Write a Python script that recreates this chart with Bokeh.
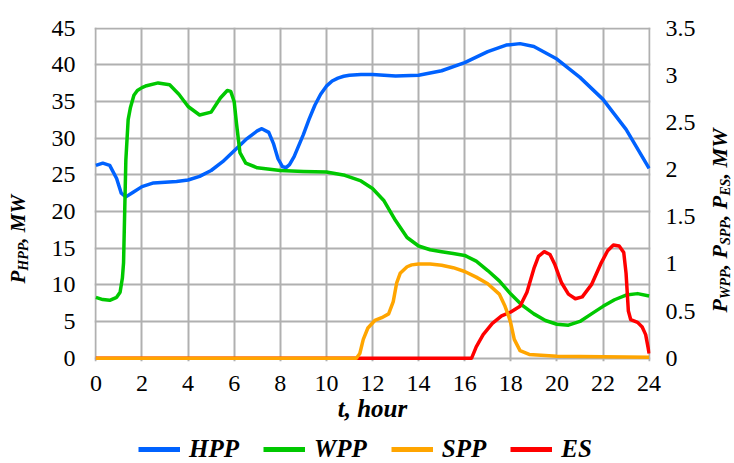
import math
from bokeh.plotting import figure
from bokeh.layouts import row, column
from bokeh.models import (Range1d, LinearAxis, Legend, LegendItem, Label,
                          FixedTicker, NumeralTickFormatter)
from bokeh.embed import file_html
from bokeh.resources import INLINE

# ---------------- data ----------------
hpp_t = [0, 0.3, 0.6, 0.9, 1.1, 1.3, 1.6, 2.0, 2.5, 3.0, 3.5, 4.0, 4.5, 5.0, 5.5,
         6.0, 6.5, 7.0, 7.2, 7.5, 7.7, 7.9, 8.1, 8.25, 8.4, 8.6, 8.8, 9.0, 9.25,
         9.5, 9.75, 10.0, 10.25, 10.5, 10.75, 11.0, 11.5, 12.0, 13.0, 14.0, 15.0,
         16.0, 17.0, 17.8, 18.4, 19.0, 20.0, 21.0, 22.0, 23.0, 24.0]
hpp_mw = [26.3, 26.6, 26.3, 24.5, 22.5, 22.0, 22.6, 23.4, 23.9, 24.0, 24.1, 24.3,
          24.8, 25.6, 26.8, 28.3, 29.8, 31.0, 31.3, 30.8, 29.3, 27.2, 26.1, 26.0,
          26.4, 27.5, 29.0, 30.5, 32.6, 34.5, 36.0, 37.1, 37.8, 38.2, 38.45, 38.6,
          38.7, 38.7, 38.5, 38.6, 39.2, 40.3, 41.8, 42.7, 42.9, 42.5, 40.8, 38.3,
          35.3, 31.2, 25.9]

wpp_t = [0, 0.3, 0.6, 0.9, 1.05, 1.15, 1.2, 1.25, 1.3, 1.4, 1.5, 1.65, 1.8, 2.0,
         2.2, 2.7, 3.2, 3.6, 4.0, 4.5, 5.0, 5.4, 5.7, 5.85, 6.0, 6.1, 6.25, 6.5,
         7.0, 8.0, 9.0, 10.0, 10.8, 11.5, 12.0, 12.5, 13.0, 13.5, 14.0, 14.5,
         15.0, 15.5, 16.0, 16.5, 17.0, 17.5, 18.0, 18.5, 19.0, 19.5, 20.0, 20.5,
         21.0, 21.5, 22.0, 22.5, 23.0, 23.5, 24.0]
wpp_mw = [0.645, 0.622, 0.614, 0.646, 0.70, 0.85, 1.01, 1.556, 2.1, 2.53, 2.66,
          2.79, 2.84, 2.87, 2.89, 2.92, 2.90, 2.80, 2.67, 2.58, 2.61, 2.76, 2.84,
          2.83, 2.72, 2.49, 2.18, 2.07, 2.02, 1.99, 1.98, 1.975, 1.94, 1.88, 1.80,
          1.67, 1.46, 1.28, 1.19, 1.15, 1.13, 1.11, 1.09, 1.03, 0.93, 0.82, 0.68,
          0.56, 0.47, 0.40, 0.36, 0.35, 0.39, 0.47, 0.55, 0.62, 0.67, 0.685, 0.66]

spp_t = [0, 11.3, 11.45, 11.6, 11.8, 12.1, 12.4, 12.7, 12.9, 13.05, 13.2, 13.5,
         13.7, 14.0, 14.5, 15.0, 15.5, 16.0, 16.5, 17.0, 17.5, 17.75, 17.9, 18.0,
         18.15, 18.4, 18.8, 20.0, 22.0, 24.0]
spp_mw = [0.0, 0.0, 0.05, 0.2, 0.32, 0.40, 0.43, 0.47, 0.6, 0.8, 0.9, 0.97, 0.99,
          1.0, 1.0, 0.985, 0.96, 0.92, 0.86, 0.79, 0.68, 0.55, 0.45, 0.37, 0.2,
          0.08, 0.04, 0.02, 0.015, 0.01]

es_t = [0, 16.3, 16.5, 16.8, 17.2, 17.6, 18.0, 18.4, 18.7, 19.0, 19.2, 19.45,
        19.7, 19.9, 20.2, 20.5, 20.8, 21.1, 21.5, 21.9, 22.2, 22.45, 22.7, 22.9,
        23.0, 23.1, 23.2, 23.5, 23.7, 23.85, 23.95, 24.0]
es_mw = [0.0, 0.0, 0.12, 0.25, 0.37, 0.45, 0.49, 0.55, 0.7, 0.95, 1.08, 1.13,
         1.1, 1.0, 0.8, 0.68, 0.63, 0.65, 0.78, 1.0, 1.14, 1.2, 1.19, 1.12, 0.9,
         0.5, 0.41, 0.38, 0.33, 0.25, 0.12, 0.05]

x_ticks = list(range(0, 25, 2))
left_ticks = list(range(0, 46, 5))
right_ticks = [0, 0.5, 1, 1.5, 2, 2.5, 3, 3.5]

series_names = ["HPP", "WPP", "SPP", "ES"]
colors = {"HPP": "#0062ff", "WPP": "#00c800", "SPP": "#ffa500", "ES": "#ff0000"}

FONT = "Liberation Serif"
K = 45 / 3.5
LW = 3.5

# ---------------- main chart ----------------
p = figure(width=664, height=435, output_backend="svg", toolbar_location=None,
           x_range=Range1d(-0.06, 24.06), y_range=Range1d(-0.45, 45.1),
           min_border_left=54, min_border_right=54, min_border_top=27,
           min_border_bottom=74)
p.extra_y_ranges = {"right": Range1d(-0.45 / K, 45.1 / K)}
p.outline_line_color = None

grid_color = "#b0b0b0"
p.xgrid.ticker = FixedTicker(ticks=x_ticks)
p.ygrid.ticker = FixedTicker(ticks=left_ticks)
for g in (p.xgrid, p.ygrid):
    g.grid_line_color = grid_color
    g.grid_line_width = 2

p.xaxis.ticker = FixedTicker(ticks=x_ticks)
p.yaxis.ticker = FixedTicker(ticks=left_ticks)
p.xaxis.axis_label = "t, hour"
p.xaxis.axis_label_text_font = FONT
p.xaxis.axis_label_text_font_style = "bold italic"
p.xaxis.axis_label_text_font_size = "25px"
p.xaxis.axis_label_text_color = "black"
p.xaxis.axis_label_standoff = 1

raxis = LinearAxis(y_range_name="right", ticker=FixedTicker(ticks=right_ticks),
                   formatter=NumeralTickFormatter(format="0.[0]"))
p.add_layout(raxis, "right")

for ax in (p.xaxis[0], p.yaxis[0], raxis):
    ax.axis_line_color = None
    ax.major_tick_line_color = None
    ax.minor_tick_line_color = None
    ax.major_tick_out = 0
    ax.major_tick_in = 0
    ax.major_label_text_font = FONT
    ax.major_label_text_font_size = "24px"
    ax.major_label_text_color = "black"
p.xaxis.major_label_standoff = 14
p.yaxis.major_label_standoff = 19
raxis.major_label_standoff = 15

p.line(hpp_t, hpp_mw, line_color=colors["HPP"], line_width=LW, line_join="round")
p.line(wpp_t, wpp_mw, line_color=colors["WPP"], line_width=LW, line_join="round",
       y_range_name="right")
p.line(es_t, es_mw, line_color=colors["ES"], line_width=LW, line_join="round",
       y_range_name="right")
p.line(spp_t, spp_mw, line_color=colors["SPP"], line_width=LW, line_join="round",
       y_range_name="right")

# ---------------- legend strip ----------------
leg = figure(width=664, height=28, output_backend="svg", toolbar_location=None,
             x_range=Range1d(0, 664), y_range=Range1d(0, 28), min_border=0,
             x_axis_location=None, y_axis_location=None)
leg.grid.visible = False
leg.outline_line_color = None
items = []
for n in series_names:
    # proxy renderer placed outside the strip's visible range
    r = leg.line(x=[-50, -40], y=[-50, -50], line_color=colors[n], line_width=5)
    items.append(LegendItem(label=n, renderers=[r]))
legend = Legend(items=items, orientation="horizontal", location=(44, 0),
                label_text_font=FONT, label_text_font_style="bold italic",
                label_text_font_size="25px", label_text_color="black",
                glyph_width=42, glyph_height=28, label_height=28,
                label_standoff=9, spacing=24, border_line_color=None,
                background_fill_alpha=0, padding=0, margin=0)
leg.add_layout(legend)

# ---------------- rotated axis titles with subscripts ----------------
EM = {"P": 0.611, "H": 0.778, "W": 0.889, "M": 0.889, "S": 0.556, "E": 0.667,
      ",": 0.25, " ": 0.25}


def title_fig(width, pieces, x0, y0):
    f = figure(width=width, height=463, output_backend="svg",
               toolbar_location=None, x_range=Range1d(0, width),
               y_range=Range1d(0, 463), min_border=0,
               x_axis_location=None, y_axis_location=None)
    f.grid.visible = False
    f.outline_line_color = None
    y = y0
    for text, size, sub in pieces:
        f.add_layout(Label(x=x0 + (6 if sub else 0), y=y, text=text,
                           angle=math.pi / 2, text_align="left",
                           text_baseline="middle", text_font=FONT,
                           text_font_style="bold italic",
                           text_font_size=f"{size}px", text_color="black"))
        y += sum(EM[c] for c in text) * size
    return f


left_title = title_fig(40, [("P", 21, False), ("HPP", 14, True),
                            (", MW", 21, False)], 17, 180)
right_title = title_fig(30, [("P", 22, False), ("WPP", 14, True),
                             (", ", 22, False), ("P", 22, False),
                             ("SPP", 14, True), (", ", 22, False),
                             ("P", 22, False), ("ES", 14, True),
                             (", MW", 22, False)], 15, 151)

layout = row(left_title, column(p, leg), right_title)
open("out.html", "w").write(file_html(layout, INLINE))
